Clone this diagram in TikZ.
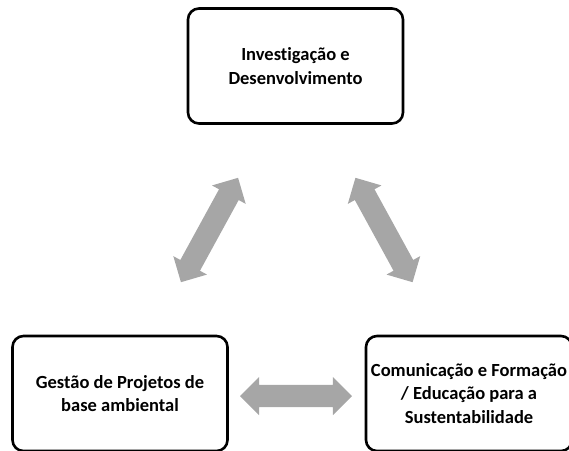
\documentclass[tikz,border=0pt]{standalone}
\usepackage{fontspec}
\setmainfont{Carlito}[Ligatures=NoCommon]
\usetikzlibrary{shapes.arrows}
\definecolor{arrowgray}{RGB}{166,166,166}
\begin{document}
\begin{tikzpicture}[x=1pt,y=-1pt,
  box/.style={draw=black, line width=2.6pt, rounded corners=11pt, fill=white,
    minimum width=#1, minimum height=115pt, align=center, inner sep=0pt,
    font=\bfseries\fontsize{18.5}{23.5}\selectfont},
  box/.default=215pt,
  blockarrow/.style={shape=double arrow, fill=arrowgray, draw=none,
    minimum height=#1, minimum width=38pt, double arrow head extend=8pt,
    inner xsep=0pt, inner ysep=11pt, double arrow tip angle=90},
]
\useasboundingbox (0,0) rectangle (569,450);
\clip (0,0) rectangle (569,450);
\node[box] (rd) at (295.5,66) {Investigação e\\Desenvolvimento};
\node[box] (gp) at (120,393.5) {Gestão de Projetos de\\base ambiental};
\node[box=206pt] (cf) at (469,393.5) {Comunicação e Formação\\/ Educação para a\\Sustentabilidade};
\node[blockarrow=112pt] (a1) at (296,396) {};
\node[blockarrow=119pt, rotate=61.3] (a2) at (209.5,230) {};
\node[blockarrow=119pt, rotate=-61.3] (a3) at (384,230) {};
\end{tikzpicture}
\end{document}
